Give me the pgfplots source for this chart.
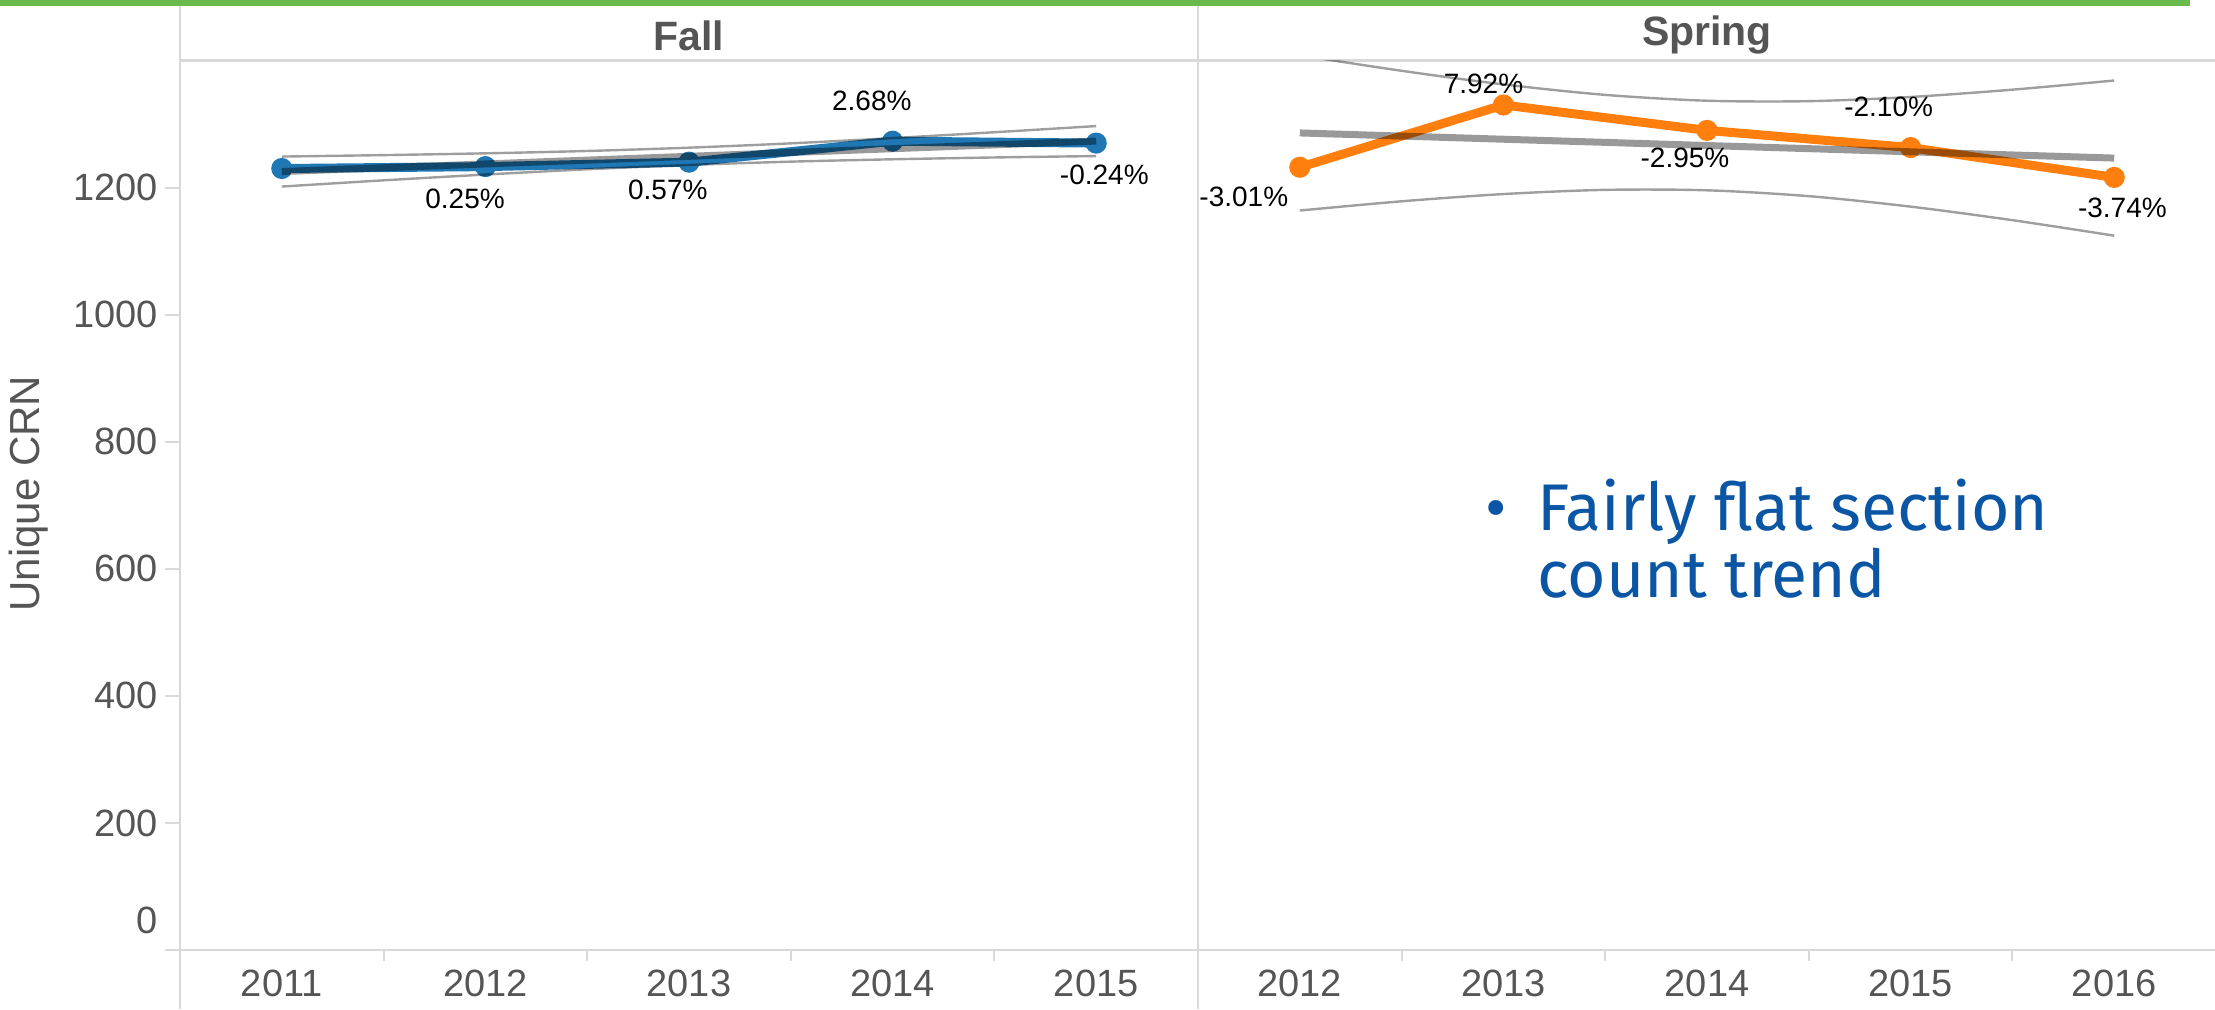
\documentclass[border=0pt]{standalone}
\usepackage{pgfplots}
\pgfplotsset{compat=1.18}
\usepackage{fontspec}
\setmainfont{Liberation Sans}
\newfontfamily\fira{Fira Sans}
\definecolor{tabblue}{RGB}{31,119,180}
\definecolor{taborange}{RGB}{255,127,14}
\definecolor{rulegray}{RGB}{217,217,217}
\definecolor{txtgray}{RGB}{85,85,85}
\definecolor{topgreen}{RGB}{106,187,78}
\definecolor{notes}{RGB}{11,86,164}
\pgfplotsset{
  panel/.style={
    scale only axis, width=509pt, height=444.75pt,
    xmin=-0.5, xmax=4.5, ymin=0, ymax=1400,
    axis line style={draw=none},
    clip mode=individual,
    tick align=outside,
    xtick pos=bottom, ytick pos=left,
    major tick length=7.5pt, minor tick length=5.5pt,
    tick style={draw=rulegray, line width=1pt},
    xtick={0,1,2,3,4},
    minor xtick={0.5,1.5,2.5,3.5},
    major x tick style={draw=none},
    xticklabel style={font=\fontsize{19}{22}\selectfont, text=txtgray, anchor=north, inner sep=0pt, yshift=-2.2pt},
    yticklabel style={font=\fontsize{19}{22}\selectfont, text=txtgray, anchor=east, inner sep=0pt, xshift=-3.5pt},
    /pgf/number format/assume math mode=true,
    /pgf/number format/1000 sep={},
    scaled y ticks=false,
    title style={at={(axis description cs:0.5,1.0147)}, anchor=center, font=\bfseries\fontsize{20.5}{24}\selectfont, text=txtgray},
  },
  dataline/.style={line width=4.5pt, mark=*, mark size=3pt, mark options={draw=none}},
  trendline/.style={draw=black, opacity=0.4, line width=3.5pt, no marks},
  bandline/.style={draw=black, opacity=0.38, line width=1.2pt, no marks, smooth},
}
\tikzset{lbl/.style={font=\fontsize{14}{16}\selectfont, text=black, anchor=center}}
\begin{document}
\begin{tikzpicture}
\path[use as bounding box] (0,0) rectangle (1107.5pt,504.5pt);
\fill[topgreen] (0,501.5pt) rectangle (1095pt,504.5pt);
\draw[rulegray, line width=1.2pt] (90pt,0) -- (90pt,501.5pt);
\draw[rulegray, line width=1.2pt] (599pt,0) -- (599pt,501.5pt);
\draw[rulegray, line width=1.2pt] (90pt,474.25pt) -- (1107.5pt,474.25pt);
\draw[rulegray, line width=1.2pt] (83.5pt,29.5pt) -- (1107.5pt,29.5pt);

\begin{axis}[panel, at={(90pt,29.5pt)}, anchor=south west,
  title={Fall},
  xticklabels={2011,2012,2013,2014,2015},
  ytick={200,400,600,800,1000,1200},
  extra y ticks={0},
  extra y tick style={yticklabel style={yshift=15pt}},
  ylabel={Unique CRN},
  ylabel style={at={(axis description cs:-0.149,0.513)}, anchor=center, font=\fontsize{21}{24}\selectfont, text=txtgray},
]
\addplot[dataline, color=tabblue] coordinates {(0,1230) (1,1233) (2,1240) (3,1273) (4,1270)};
\addplot[trendline] coordinates {(0,1225.2) (4,1273.2)};
\addplot[bandline] coordinates {(0,1248.8) (0.5,1251.1) (1,1253.9) (1.5,1257.6) (2,1262.8) (2.5,1269.6) (3,1277.9) (3.5,1287.1) (4,1296.8)};
\addplot[bandline] coordinates {(0,1201.6) (0.5,1211.4) (1,1220.5) (1.5,1228.8) (2,1235.6) (2.5,1240.8) (3,1244.5) (3.5,1247.4) (4,1249.6)};
\node[lbl] at (axis cs:0.90,1182.4) {0.25\%};
\node[lbl] at (axis cs:1.896,1196) {0.57\%};
\node[lbl] at (axis cs:2.898,1336) {2.68\%};
\node[lbl] at (axis cs:4.04,1219.5) {-0.24\%};
\end{axis}

\begin{axis}[panel, at={(599pt,29.5pt)}, anchor=south west,
  title={Spring},
  xticklabels={2012,2013,2014,2015,2016},
  ytick=\empty,
]
\addplot[dataline, color=taborange] coordinates {(0,1232) (1,1330) (2,1290) (3,1263) (4,1216)};
\addplot[trendline] coordinates {(0,1286) (4,1246.4)};
\addplot[bandline] coordinates {(0,1408.1) (0.5,1383.8) (1,1362.4) (1.5,1345.9) (2,1336.7) (2.5,1336.0) (3,1342.6) (3.5,1354.1) (4,1368.5)};
\addplot[bandline] coordinates {(0,1163.9) (0.5,1178.4) (1,1189.8) (1.5,1196.4) (2,1195.7) (2.5,1186.5) (3,1170.0) (3.5,1148.7) (4,1124.3)};
\node[lbl] at (axis cs:-0.275,1185) {-3.01\%};
\node[lbl] at (axis cs:0.902,1364) {7.92\%};
\node[lbl] at (axis cs:1.892,1246) {-2.95\%};
\node[lbl] at (axis cs:2.892,1326.5) {-2.10\%};
\node[lbl] at (axis cs:4.04,1167.6) {-3.74\%};
\end{axis}

\node[anchor=base, inner sep=0pt, font=\fira\fontsize{33}{36}\selectfont, text=notes] at (748pt,239.5pt) {•};
\node[anchor=base west, inner sep=0pt, font=\fira\fontsize{33}{36}\selectfont, text=notes] at (768.5pt,239.5pt) {Fairly flat section};
\node[anchor=base west, inner sep=0pt, font=\fira\fontsize{33}{36}\selectfont, text=notes] at (768.5pt,205.65pt) {count trend};
\end{tikzpicture}
\end{document}
